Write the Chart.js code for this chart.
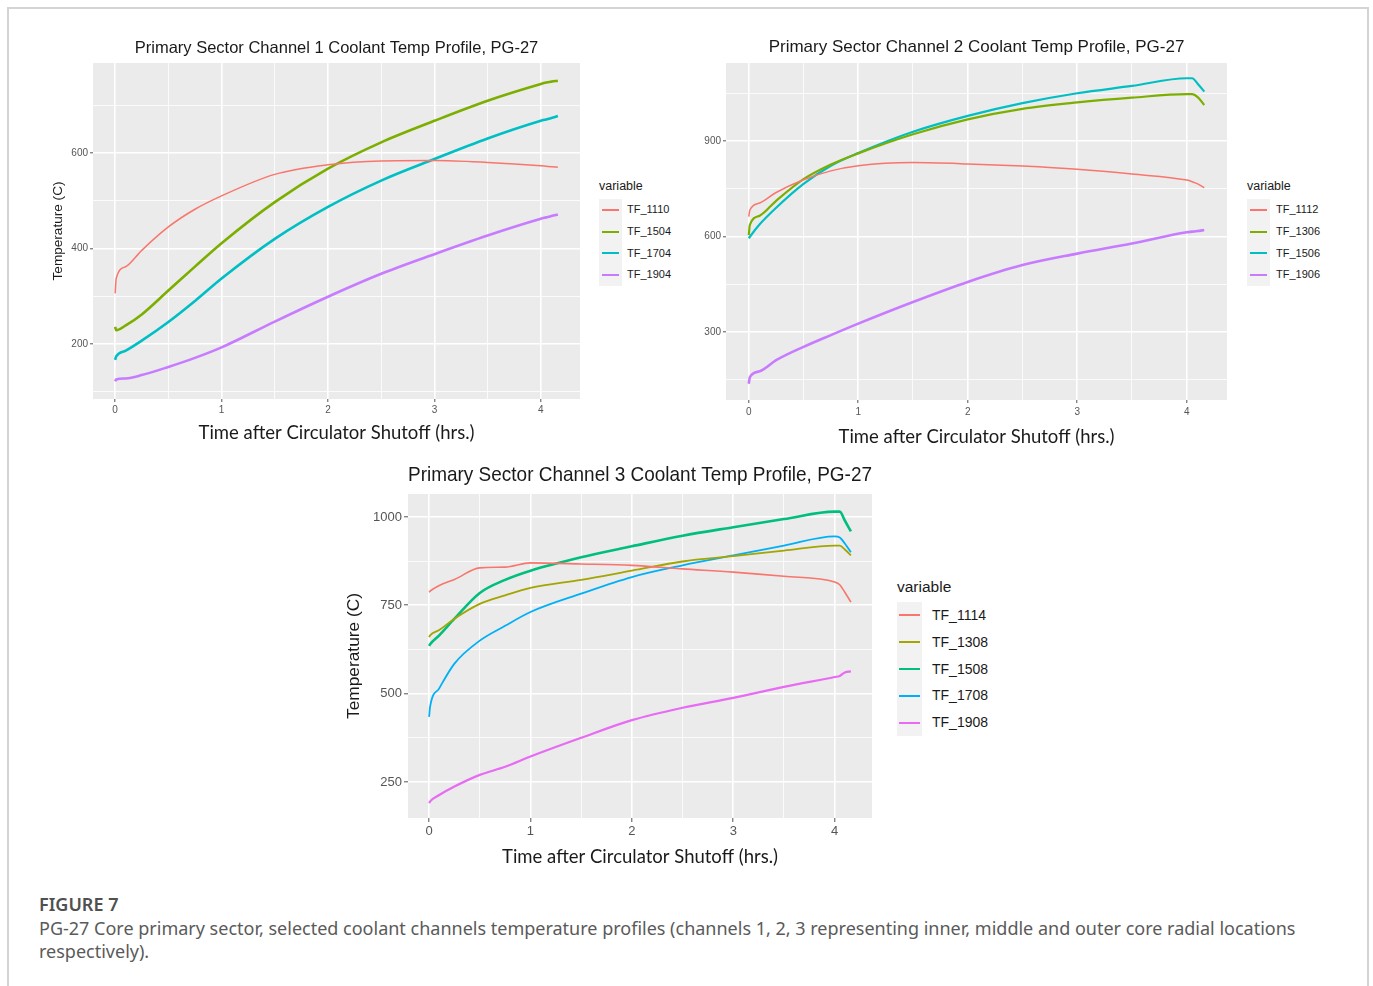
<!DOCTYPE html>
<html>
<head>
<meta charset="utf-8">
<script src="https://cdn.jsdelivr.net/npm/chart.js@4.4.1/dist/chart.umd.min.js"></script>
<style>
  html, body { margin: 0; padding: 0; background: #fff; }
  body { width: 1373px; height: 986px; position: relative; overflow: hidden; font-family: "Liberation Sans", Arial, sans-serif; }
  .frame { position: absolute; left: 7px; top: 7px; width: 1358px; height: 1000px; border: 2px solid #d4d4d4; border-bottom: none; }
  .legend { position: absolute; color: #1a1a1a; }
  .legend .ttl { position: absolute; left: 0; white-space: nowrap; }
  .legend .keys { position: absolute; left: 0; background: #f2f2f2; }
  .legend .row { position: absolute; white-space: nowrap; }
  .legend .ln { position: absolute; }
  .fig-label { position: absolute; left: 39px; top: 892px; font: 600 18px "Noto Sans", sans-serif; color: #505050; }
  .caption { position: absolute; left: 39px; top: 917px; font: 18px/23px "Noto Sans", sans-serif; color: #5a5a5a; white-space: nowrap; }
</style>
</head>
<body>
<div class="frame"></div>
<div class="fig-label">FIGURE 7</div>
<div class="caption">PG-27 Core primary sector, selected coolant channels temperature profiles (channels 1, 2, 3 representing inner, middle and outer core radial locations<br>respectively).</div>

<script>
// ─── SHARED AXIS DATA ────────────────────────────────────────────────────────
const TIME     = [0, 0.01, 0.1, 0.25, 0.5, 0.75, 1, 1.5, 2, 2.5, 3, 3.5, 4, 4.05, 4.1, 4.16];
const X_TICKS  = [0, 0.5, 1, 1.5, 2, 2.5, 3, 3.5, 4];
const X_LABELS = ['0', '', '1', '', '2', '', '3', '', '4'];
const X_MIN = -0.208, X_MAX = 4.368;

const HUE4 = ['#F8766D', '#7CAE00', '#00BFC4', '#C77CFF'];
const HUE5 = ['#F8766D', '#A3A500', '#00BF7D', '#00B0F6', '#E76BF3'];

// ─── CHANNEL 1 ───────────────────────────────────────────────────────────────
const CH1_NAMES = ['TF_1110', 'TF_1504', 'TF_1704', 'TF_1904'];
const TF_1110 = [306, 337, 362, 396, 445, 482, 510, 555, 575, 583, 584, 580, 573, 572, 571, 570];
const TF_1504 = [236, 229, 239, 262, 312, 362, 411, 497, 567, 622, 667, 709, 744, 747, 749, 751];
const TF_1704 = [167, 174, 186, 207, 246, 290, 337, 420, 487, 542, 587, 630, 667, 670, 673, 677];
const TF_1904 = [122, 126, 128, 135, 152, 171, 193, 247, 299, 347, 388, 427, 462, 465, 468, 471];
const CH1_Y_TICKS  = [100, 200, 300, 400, 500, 600, 700];
const CH1_Y_LABELS = ['', '200', '', '400', '', '600', ''];

// ─── CHANNEL 2 ───────────────────────────────────────────────────────────────
const CH2_NAMES = ['TF_1112', 'TF_1306', 'TF_1506', 'TF_1906'];
const TF_1112 = [662, 683, 705, 738, 778, 806, 822, 832, 828, 821, 811, 796, 777, 772, 765, 753];
const TF_1306 = [604, 636, 665, 712, 780, 826, 861, 921, 968, 1001, 1021, 1036, 1047, 1047, 1038, 1013];
const TF_1506 = [594, 599, 638, 690, 765, 822, 862, 929, 979, 1019, 1050, 1073, 1097, 1097, 1080, 1055];
const TF_1906 = [137, 158, 176, 211, 253, 290, 326, 394, 457, 510, 546, 578, 613, 615, 617, 620];
const CH2_Y_TICKS  = [150, 300, 450, 600, 750, 900, 1050];
const CH2_Y_LABELS = ['', '300', '', '600', '', '900', ''];

// ─── CHANNEL 3 ───────────────────────────────────────────────────────────────
const CH3_NAMES = ['TF_1114', 'TF_1308', 'TF_1508', 'TF_1708', 'TF_1908'];
const TF_1114 = [787, 790, 806, 823, 856, 858, 870, 867, 863, 853, 844, 832, 816, 808, 787, 759];
const TF_1308 = [660, 665, 680, 712, 754, 778, 799, 822, 848, 874, 889, 905, 919, 919, 908, 891];
const TF_1508 = [635, 640, 665, 712, 785, 822, 848, 886, 917, 947, 971, 994, 1015, 1015, 990, 959];
const TF_1708 = [434, 463, 515, 585, 650, 692, 731, 783, 830, 863, 891, 919, 945, 942, 925, 900];
const TF_1908 = [190, 195, 213, 237, 270, 293, 322, 375, 425, 460, 488, 519, 547, 550, 560, 563];
const CH3_Y_TICKS  = [250, 375, 500, 625, 750, 875, 1000];
const CH3_Y_LABELS = ['250', '', '500', '', '750', '', '1000'];

const SANS = '"Liberation Sans", Arial, sans-serif';
const LABEL_SANS = 'Lato, "Open Sans", sans-serif';

// gray ggplot panel behind the grid
const panelBg = {
  id: 'panelBg',
  beforeDraw(chart) {
    const { ctx, chartArea: a } = chart;
    ctx.save();
    ctx.fillStyle = '#EBEBEB';
    ctx.fillRect(a.left, a.top, a.right - a.left, a.bottom - a.top);
    ctx.restore();
  }
};

const isMajor = c => c.tick && c.tick.label !== '';

function makeChart(c) {
  const cv = document.createElement('canvas');
  cv.width = c.w;
  cv.height = c.h;
  cv.style.cssText = `position:absolute;left:${c.x}px;top:${c.y}px;`;
  document.body.appendChild(cv);

  const datasets = c.names.map((n, i) => ({
    label: n,
    data: TIME.map((t, j) => ({ x: t, y: c.series[i][j] })),
    borderColor: c.colors[i],
    borderWidth: c.widths[i],
    pointRadius: 0,
    cubicInterpolationMode: 'monotone',
    fill: false,
  }));

  const grid = (tl) => ({
    color: '#ffffff',
    lineWidth: ctx => isMajor(ctx) ? 1.6 : 0.8,
    tickColor: ctx => isMajor(ctx) ? '#555' : 'rgba(0,0,0,0)',
    tickLength: tl,
    tickWidth: 1,
  });

  return new Chart(cv.getContext('2d'), {
    type: 'line',
    data: { datasets },
    options: {
      responsive: false,
      animation: false,
      layout: { padding: { left: 0, top: 0, right: c.padR, bottom: 0 } },
      plugins: {
        legend: { display: false },
        tooltip: { enabled: false },
        title: {
          display: true, text: c.title, fullSize: false, color: '#1a1a1a',
          font: { family: SANS, size: c.titleSize, weight: 'normal' },
          padding: { top: c.titlePad[0], bottom: c.titlePad[1] },
        },
      },
      scales: {
        x: {
          type: 'linear', min: X_MIN, max: X_MAX,
          afterBuildTicks: s => { s.ticks = X_TICKS.map(v => ({ value: v })); },
          afterFit: s => { s.height = c.xAxisH; },
          border: { display: false },
          grid: grid(c.tickLen),
          ticks: {
            autoSkip: false, maxRotation: 0, padding: c.xTickPad, color: '#555',
            font: { family: SANS, size: c.tickSize },
            callback: (v, i) => X_LABELS[i],
          },
          title: {
            display: true, text: 'Time after Circulator Shutoff (hrs.)', color: '#1a1a1a',
            font: { family: LABEL_SANS, size: 18.5 },
            padding: { top: 0, bottom: c.xTitlePad },
          },
        },
        y: {
          type: 'linear', min: c.yMin, max: c.yMax,
          afterBuildTicks: s => { s.ticks = c.yTicks.map(v => ({ value: v })); },
          afterFit: s => { s.width = c.yAxisW; },
          border: { display: false },
          grid: grid(c.tickLen),
          ticks: {
            autoSkip: false, padding: 2, color: '#555',
            font: { family: SANS, size: c.tickSize },
            callback: (v, i) => c.yLabels[i],
          },
          title: {
            display: !!c.yTitle, text: c.yTitle || '', color: '#1a1a1a',
            font: { family: SANS, size: c.yTitleSize || 12 },
            padding: { top: c.yTitlePad || 0, bottom: 0 },
          },
        },
      },
    },
    plugins: [panelBg],
  });
}

// ggplot style legend, right of each panel
function makeLegend(l) {
  const el = document.createElement('div');
  el.className = 'legend';
  el.style.cssText = `left:${l.x}px;top:${l.y}px;`;
  const ttl = document.createElement('div');
  ttl.className = 'ttl';
  ttl.textContent = 'variable';
  ttl.style.cssText = `top:0;font-size:${l.titleSize}px;line-height:${l.titleSize + 2}px;`;
  el.appendChild(ttl);
  const keys = document.createElement('div');
  keys.className = 'keys';
  keys.style.cssText = `top:${l.keysTop}px;width:${l.keyW}px;height:${l.rowH * l.names.length}px;`;
  el.appendChild(keys);
  l.names.forEach((n, i) => {
    const cy = l.keysTop + l.rowH * (i + 0.5);
    const ln = document.createElement('div');
    ln.className = 'ln';
    ln.style.cssText = `left:${(l.keyW - l.lineW) / 2}px;top:${cy - 1}px;width:${l.lineW}px;height:2px;background:${l.colors[i]};`;
    el.appendChild(ln);
    const row = document.createElement('div');
    row.className = 'row';
    row.textContent = n;
    row.style.cssText = `left:${l.labelX}px;top:${cy - l.labelSize * 0.6}px;font-size:${l.labelSize}px;line-height:${l.labelSize * 1.2}px;`;
    el.appendChild(row);
  });
  document.body.appendChild(el);
}

makeChart({
  x: 40, y: 30, w: 545, h: 420, padR: 5,
  title: 'Primary Sector Channel 1 Coolant Temp Profile, PG-27', titleSize: 16.5, titlePad: [8.1, 5.1],
  names: CH1_NAMES, series: [TF_1110, TF_1504, TF_1704, TF_1904], colors: HUE4, widths: [1.5, 2.6, 2.6, 2.6],
  yMin: 85, yMax: 788, yTicks: CH1_Y_TICKS, yLabels: CH1_Y_LABELS,
  yAxisW: 53, xAxisH: 51, tickLen: 3, tickSize: 10, xTickPad: 2, xTitlePad: 5.9,
  yTitle: 'Temperature (C)', yTitleSize: 13.6, yTitlePad: 10,
});
makeLegend({ x: 599, y: 179, titleSize: 12.5, keysTop: 20, keyW: 23, rowH: 21.7, lineW: 17, labelX: 28, labelSize: 11, names: CH1_NAMES, colors: HUE4 });

makeChart({
  x: 690, y: 30, w: 542, h: 425, padR: 5,
  title: 'Primary Sector Channel 2 Coolant Temp Profile, PG-27', titleSize: 17, titlePad: [6.8, 5.8],
  names: CH2_NAMES, series: [TF_1112, TF_1306, TF_1506, TF_1906], colors: HUE4, widths: [1.5, 2.2, 2.2, 2.6],
  yMin: 86, yMax: 1145, yTicks: CH2_Y_TICKS, yLabels: CH2_Y_LABELS,
  yAxisW: 36, xAxisH: 55, tickLen: 3, tickSize: 10, xTickPad: 3, xTitlePad: 6.9,
});
makeLegend({ x: 1247, y: 179, titleSize: 12.5, keysTop: 20, keyW: 23, rowH: 21.7, lineW: 17, labelX: 29, labelSize: 11, names: CH2_NAMES, colors: HUE4 });

makeChart({
  x: 335, y: 455, w: 542, h: 420, padR: 5,
  title: 'Primary Sector Channel 3 Coolant Temp Profile, PG-27', titleSize: 21, titlePad: [7.4, 6.4],
  names: CH3_NAMES, series: [TF_1114, TF_1308, TF_1508, TF_1708, TF_1908], colors: HUE5, widths: [1.6, 1.8, 2.6, 1.8, 2.2],
  yMin: 148, yMax: 1065, yTicks: CH3_Y_TICKS, yLabels: CH3_Y_LABELS,
  yAxisW: 73, xAxisH: 57, tickLen: 4, tickSize: 13, xTickPad: 2, xTitlePad: 6.9,
  yTitle: 'Temperature (C)', yTitleSize: 17.3, yTitlePad: 9,
});
makeLegend({ x: 897, y: 578, titleSize: 15.5, keysTop: 24, keyW: 25, rowH: 26.8, lineW: 21, labelX: 35, labelSize: 14, names: CH3_NAMES, colors: HUE5 });
</script>
</body>
</html>
